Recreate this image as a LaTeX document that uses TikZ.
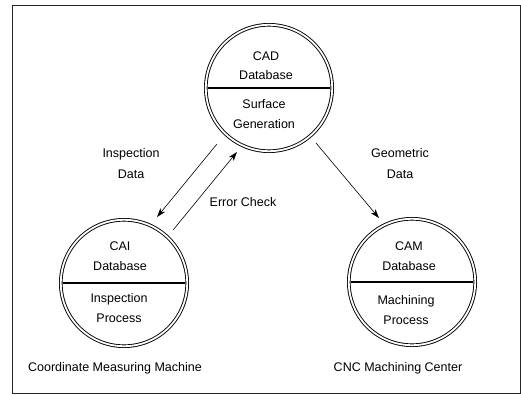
\documentclass[tikz,border=0pt]{standalone}
\usepackage{fontspec}
\setmainfont{Liberation Sans}
\usetikzlibrary{arrows.meta,calc}

\begin{document}
\begin{tikzpicture}[x=1pt,y=1pt,
  station/.style={circle, draw, line width=0.9pt, double, double distance=1.8pt,
                  minimum size=126.4pt, inner sep=0pt, outer sep=0pt},
  divider/.style={line width=1.1pt, shorten <=1.8pt, shorten >=1.8pt},
  intext/.style={align=center, font=\fontsize{12.5}{19.5}\selectfont},
  label/.style={align=center, font=\fontsize{12.5}{21}\selectfont},
  flow/.style={line width=0.6pt, -{Stealth[length=9pt,width=6pt,inset=2.5pt]}},
  frame/.style={line width=0.8pt, draw=black!85}]
  \useasboundingbox (0,0) rectangle (521,394);

  % outer frame
  \draw[frame] (12,1) rectangle (520,389);

  % the three stations
  \node[station] (cad) at (269,306) {};
  \node[station] (cai) at (124,111) {};
  \node[station] (cam) at (412,112) {};

  \draw[divider] (cad.west) -- (cad.east);
  \draw[divider] (cai.west) -- (cai.east);
  \draw[divider] (cam.west) -- (cam.east);

  % station contents
  \node[intext] (cadtop) at ($(cad.center)+(-3,22.5)$) {CAD\\Database};
  \node[intext] (cadbot) at ($(cad.center)+(-5,-26)$) {Surface\\Generation};
  \node[intext] (caitop) at ($(cai.center)+(-4,27)$) {CAI\\Database};
  \node[intext] (caibot) at ($(cai.center)+(-5,-25)$) {Inspection\\Process};
  \node[intext] (camtop) at ($(cam.center)+(-3,26)$) {CAM\\Database};
  \node[intext] (cambot) at ($(cam.center)+(-6,-28)$) {Machining\\Process};

  % flow labels
  \node[label] (insp) at (131,230.5) {Inspection\\Data};
  \node[label] (geom) at (400,230.5) {Geometric\\Data};
  \node[label] (err) at (243,192) {Error Check};
  \node[label] (cmm) at (115,26) {Coordinate Measuring Machine};
  \node[label] (cnc) at (398,26) {CNC Machining Center};

  % data flows between stations
  \draw[flow] ($(cad.center)+(227.1:76.4)$) -- ($(cai.center)+(63.4:73.8)$);
  \draw[flow] ($(cai.center)+(47.2:72.2)$) -- ($(cad.center)+(243.4:71.6)$);
  \draw[flow] ($(cad.center)+(310.5:72.3)$) -- ($(cam.center)+(117.3:72)$);
\end{tikzpicture}
\end{document}
